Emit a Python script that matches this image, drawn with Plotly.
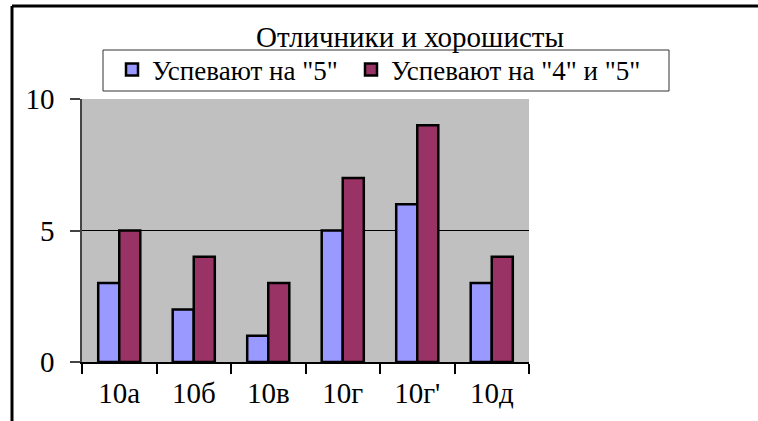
import plotly.graph_objects as go

categories = ["10а", "10б", "10в", "10г", "10г'", "10д"]
excellent = [3, 2, 1, 5, 6, 3]
good_and_excellent = [5, 4, 3, 7, 9, 4]
series_names = ['Успевают на "5"', 'Успевают на "4" и "5"']
y_ticks = [0, 5, 10]

FONT = "Liberation Serif, Times New Roman, serif"
FS = 29
LFS = 27
W, H = 758, 421
L, R, T, B = 82, 229, 99, 59

fig = go.Figure()
fig.add_trace(go.Bar(x=categories, y=excellent, name=series_names[0], legend="legend",
                     marker=dict(color="#9999FF", line=dict(color="black", width=2.5))))
fig.add_trace(go.Bar(x=categories, y=good_and_excellent, name=series_names[1], legend="legend2",
                     marker=dict(color="#993366", line=dict(color="black", width=2.5))))

pw = W - L - R
ph = H - T - B


def px_x(x):
    return (x - L) / pw


def px_y(y):
    return (H - B - y) / ph


leg_common = dict(orientation="h", xref="paper", yref="paper",
                  xanchor="left", yanchor="middle",
                  borderwidth=0, bgcolor="rgba(0,0,0,0)",
                  font=dict(family=FONT, size=LFS, color="black"),
                  itemwidth=30, tracegroupgap=0)

fig.update_layout(
    width=W, height=H,
    margin=dict(l=L, r=R, t=T, b=B, pad=0, autoexpand=False),
    paper_bgcolor="white",
    plot_bgcolor="#C0C0C0",
    barmode="group",
    bargap=0.435,
    bargroupgap=0,
    font=dict(family=FONT, size=FS, color="black"),
    showlegend=True,
    title=dict(text="Отличники и хорошисты", x=410 / W, xanchor="center",
               xref="container", yref="container",
               y=1 - 37 / H, yanchor="middle",
               font=dict(family=FONT, size=FS, color="black")),
    legend=dict(leg_common, x=px_x(112), y=px_y(70)),
    legend2=dict(leg_common, x=px_x(351), y=px_y(70)),
    xaxis=dict(showgrid=False, showline=True, linecolor="black", linewidth=1.5,
               ticks="outside", ticklen=10, tickcolor="black", tickwidth=1.5,
               tickson="boundaries", ticklabelstandoff=4,
               tickfont=dict(family=FONT, size=FS, color="black")),
    yaxis=dict(range=[0, 10], tickvals=y_ticks, showgrid=True, gridcolor="black",
               gridwidth=1, showline=True, linecolor="#444444", linewidth=1.5,
               ticks="outside", ticklen=10, tickcolor="#444444", tickwidth=1.5,
               zeroline=False, ticklabelstandoff=10,
               tickfont=dict(family=FONT, size=FS, color="black")),
    shapes=[
        dict(type="rect", xref="paper", yref="paper", layer="above",
             x0=px_x(103), x1=px_x(669), y0=px_y(91), y1=px_y(50),
             line=dict(color="#333333", width=1), fillcolor="white"),
        dict(type="line", xref="paper", yref="paper",
             x0=px_x(12), x1=px_x(W) + 0.01, y0=px_y(6), y1=px_y(6),
             line=dict(color="black", width=3)),
        dict(type="line", xref="paper", yref="paper",
             x0=px_x(12), x1=px_x(12), y0=px_y(6), y1=px_y(H) - 0.02,
             line=dict(color="black", width=3)),
    ],
)

fig.write_html("out.html", config={"displayModeBar": False},
               post_script="document.body.style.margin='0';")
